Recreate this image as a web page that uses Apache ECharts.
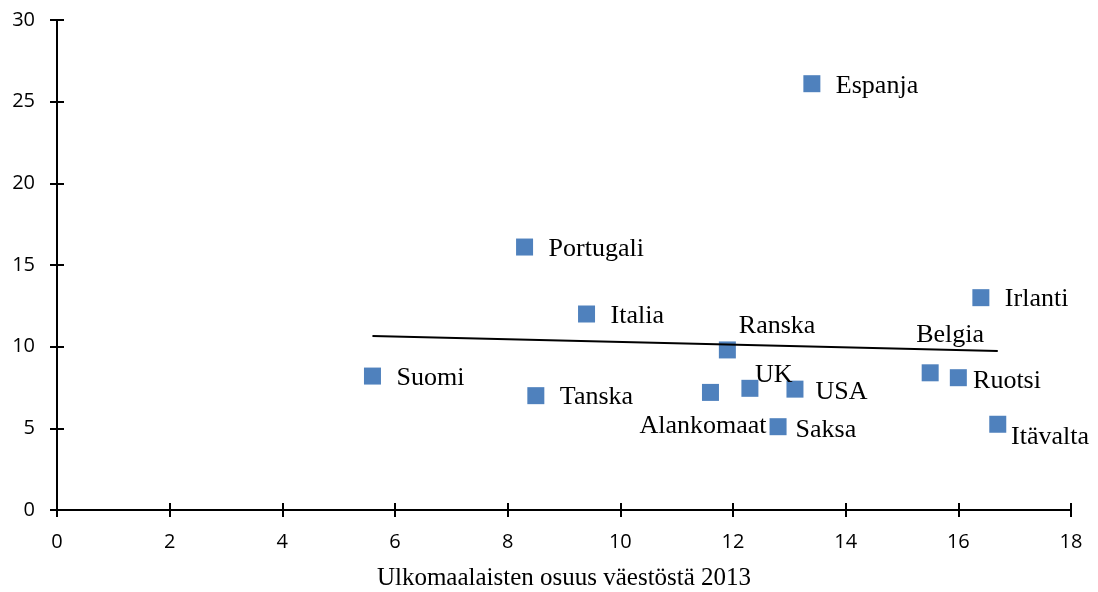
<!DOCTYPE html>
<html>
<head>
<meta charset="utf-8">
<script src="https://cdn.jsdelivr.net/npm/echarts@6/dist/echarts.min.js"></script>
<style>html,body{margin:0;padding:0;background:#fff}#c{width:1098px;height:592px}</style>
</head>
<body>
<div id="c"></div>
<script>
const countries = ['Suomi','Portugali','Italia','Tanska','Ranska','Alankomaat','UK','USA','Saksa','Espanja','Belgia','Ruotsi','Irlanti','Itävalta'];
const foreignShare = [5.6, 8.3, 9.4, 8.5, 11.9, 11.6, 12.3, 13.1, 12.8, 13.4, 15.5, 16.0, 16.4, 16.7];
const yValues = [8.2, 16.1, 12.0, 7.0, 9.8, 7.2, 7.45, 7.4, 5.1, 26.1, 8.4, 8.1, 13.0, 5.25];
const trendX = [5.6, 16.7];
const trendY = [10.66, 9.74];
const xTicks = [0, 2, 4, 6, 8, 10, 12, 14, 16, 18];
const yTicks = [0, 5, 10, 15, 20, 25, 30];
const xTitle = 'Ulkomaalaisten osuus väestöstä 2013';

// label offsets (px) from marker centre to label's left-middle
const labelOffsets = {
  'Ranska': [11.5, -24],
  'UK': [5, -13],
  'Alankomaat': [-71, 34],
  'Saksa': [17.5, 3],
  'USA': [20.5, 3],
  'Belgia': [-14, -38],
  'Ruotsi': [14.7, 3],
  'Itävalta': [13.3, 13]
};
const half = 8.5;
const points = countries.map((n, i) => {
  const o = labelOffsets[n] || [24, 2];
  return {
    name: n,
    value: [foreignShare[i], yValues[i]],
    label: { position: [half + o[0], half + o[1]] }
  };
});

const tickStyle = { color: '#000', width: 2 };
const gridBox = { left: 57, right: 27, top: 20, bottom: 82, containLabel: false, outerBoundsMode: 'none' };
const axisCommon = {
  type: 'value',
  show: true,
  splitLine: { show: false },
  axisLine: { show: true, onZero: false, lineStyle: { color: '#000', width: 2 } },
  axisTick: { show: true, length: 7, lineStyle: tickStyle }
};
const xRange = { min: xTicks[0], max: xTicks[xTicks.length - 1], interval: 2 };
const yRange = { min: yTicks[0], max: yTicks[yTicks.length - 1], interval: 5 };
const chart = echarts.init(document.getElementById('c'));
chart.setOption({
  animation: false,
  backgroundColor: '#fff',
  grid: [Object.assign({}, gridBox), Object.assign({}, gridBox)],
  xAxis: [
    Object.assign({}, axisCommon, xRange, {
      gridIndex: 0, position: 'bottom',
      axisLabel: { color: '#000', fontFamily: 'Open Sans', fontSize: 20, margin: 22 },
      name: xTitle, nameLocation: 'middle', nameGap: 56,
      nameTextStyle: { color: '#000', fontFamily: 'Liberation Serif', fontSize: 25 }
    }),
    Object.assign({}, axisCommon, xRange, {
      gridIndex: 1, position: 'bottom',
      axisTick: { show: true, inside: true, length: 7, lineStyle: tickStyle },
      axisLabel: { show: false }
    })
  ],
  yAxis: [
    Object.assign({}, axisCommon, yRange, {
      gridIndex: 0, position: 'left',
      axisLabel: { color: '#000', fontFamily: 'Open Sans', fontSize: 20, margin: 22 }
    }),
    Object.assign({}, axisCommon, yRange, {
      gridIndex: 1, position: 'left',
      axisTick: { show: true, inside: true, length: 7, lineStyle: tickStyle },
      axisLabel: { show: false }
    })
  ],
  series: [
    {
      type: 'scatter',
      xAxisIndex: 0,
      yAxisIndex: 0,
      symbol: 'rect',
      symbolSize: 17,
      itemStyle: { color: '#4F81BD', opacity: 1 },
      label: {
        show: true,
        formatter: '{b}',
        align: 'left',
        verticalAlign: 'middle',
        color: '#000',
        fontFamily: 'Liberation Serif',
        fontSize: 26
      },
      labelLayout: { hideOverlap: false },
      emphasis: { disabled: true },
      data: points,
      z: 2
    },
    {
      type: 'line',
      xAxisIndex: 1,
      yAxisIndex: 1,
      showSymbol: false,
      symbol: 'none',
      lineStyle: { color: '#000', width: 2 },
      data: trendX.map((x, i) => [x, trendY[i]]),
      z: 3
    }
  ]
});
</script>
</body>
</html>
